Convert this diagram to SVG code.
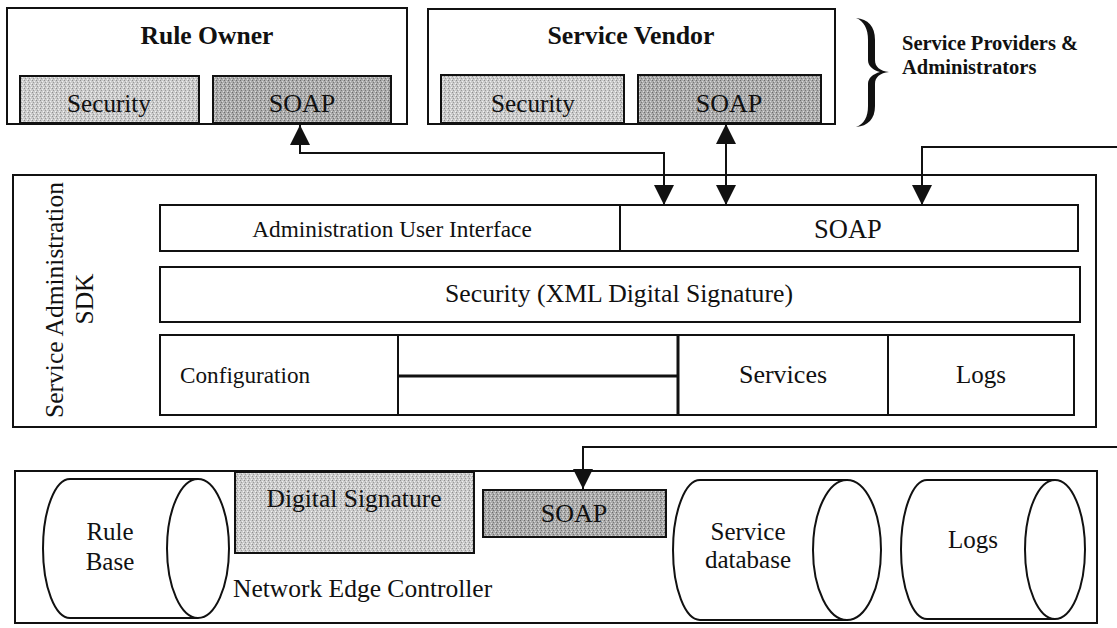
<svg xmlns="http://www.w3.org/2000/svg" width="1117" height="628" viewBox="0 0 1117 628">
<style>
  .box{fill:#fff;stroke:#111;stroke-width:2}
  .lt{fill:url(#light);stroke:#111;stroke-width:2}
  .dk{fill:url(#dark);stroke:#111;stroke-width:2}
  .t{font-family:"Liberation Serif","Times New Roman",serif;font-size:25.5px;fill:#111}
  .c{text-anchor:middle}
  .b{font-weight:bold}
  .conn{fill:none;stroke:#111;stroke-width:2}
  .cyl{fill:#fff;stroke:#111;stroke-width:2}
</style>
<defs>
  <pattern id="light" width="4" height="4" patternUnits="userSpaceOnUse">
    <rect width="4" height="4" fill="#cbcbcb"/>
    <rect x="0" y="0" width="1" height="1" fill="#8f8f8f"/>
    <rect x="2" y="1" width="1" height="1" fill="#eeeeee"/>
    <rect x="1" y="2" width="1" height="1" fill="#9a9a9a"/>
    <rect x="3" y="3" width="1" height="1" fill="#f2f2f2"/>
  </pattern>
  <pattern id="dark" width="4" height="4" patternUnits="userSpaceOnUse">
    <rect width="4" height="4" fill="#ababab"/>
    <rect x="0" y="0" width="1" height="1" fill="#6c6c6c"/>
    <rect x="2" y="1" width="1" height="1" fill="#d6d6d6"/>
    <rect x="1" y="2" width="1" height="1" fill="#777777"/>
    <rect x="3" y="3" width="1" height="1" fill="#dcdcdc"/>
  </pattern>
  <marker id="ah" viewBox="0 0 20 20" refX="20" refY="10" markerWidth="20" markerHeight="20" markerUnits="userSpaceOnUse" orient="auto-start-reverse">
    <path d="M0,0 L20,10 L0,20 Z" fill="#111"/>
  </marker>
</defs>

<g id="rule-owner">
  <rect class="box" x="7" y="8" width="400" height="116"/>
  <text class="t c b" x="207" y="44" style="font-size:25.6px">Rule Owner</text>
  <rect class="lt" x="20" y="76" width="179" height="47"/>
  <text class="t c" x="109" y="112" style="font-size:25.2px">Security</text>
  <rect class="dk" x="213" y="76" width="178" height="47"/>
  <text class="t c" x="302" y="112" style="font-size:26px">SOAP</text>
</g>

<g id="service-vendor">
  <rect class="box" x="428" y="9" width="407" height="115"/>
  <text class="t c b" x="631" y="44" style="font-size:25.8px">Service Vendor</text>
  <rect class="lt" x="441" y="75" width="183" height="48"/>
  <text class="t c" x="533" y="112" style="font-size:25.2px">Security</text>
  <rect class="dk" x="638" y="75" width="183" height="48"/>
  <text class="t c" x="729" y="112" style="font-size:26px">SOAP</text>
</g>

<g id="providers-label">
  <path d="M856,18 C868,19 875,26 875,40 L875,60 C875,67 880,71 889,72 C880,73 875,77 875,84 L875,106 C875,119 868,126 856,127 C864,124 868,117 868,106 L868,84 C868,78 873,74 880,72 C873,70 868,66 868,60 L868,40 C868,29 864,21 856,18 Z" fill="#111"/>
  <text class="t b" x="902" y="50" style="font-size:20.5px">Service Providers &amp;</text>
  <text class="t b" x="902" y="74" style="font-size:20.5px">Administrators</text>
</g>

<g id="sdk">
  <rect class="box" x="13" y="175" width="1083" height="252"/>
  <text class="t c" transform="translate(63,300) rotate(-90)">Service Administration</text>
  <text class="t c" transform="translate(93,299) rotate(-90)">SDK</text>
  <g id="admin-ui">
    <rect class="box" x="160" y="205" width="460" height="46"/>
    <text class="t c" x="392" y="237" style="font-size:23.3px">Administration User Interface</text>
  </g>
  <g id="sdk-soap">
    <rect class="box" x="620" y="205" width="458" height="46"/>
    <text class="t c" x="848" y="238" style="font-size:26.5px">SOAP</text>
  </g>
  <g id="sdk-security">
    <rect class="box" x="160" y="267" width="920" height="55"/>
    <text class="t c" x="619" y="302" style="font-size:25.7px">Security (XML Digital Signature)</text>
  </g>
  <g id="sdk-bottom">
    <rect class="box" x="160" y="335" width="914" height="80"/>
    <line x1="398" y1="335" x2="398" y2="415" stroke="#111" stroke-width="2"/>
    <line x1="678" y1="335" x2="678" y2="415" stroke="#111" stroke-width="3"/>
    <line x1="888" y1="335" x2="888" y2="415" stroke="#111" stroke-width="2"/>
    <line x1="398" y1="376" x2="678" y2="376" stroke="#111" stroke-width="3"/>
    <text class="t" x="180" y="383" style="font-size:23.2px">Configuration</text>
    <text class="t c" x="783" y="383" style="font-size:26px">Services</text>
    <text class="t c" x="981" y="383" style="font-size:25px">Logs</text>
  </g>
</g>

<g id="nec">
  <rect class="box" x="15" y="471" width="1082" height="152"/>
  <text class="t" x="233" y="597">Network Edge Controller</text>
  <g id="rule-base">
    <path class="cyl" d="M198,479 L70,479 A27,69.5 0 0 0 70,618 L198,618"/>
    <ellipse class="cyl" cx="198" cy="548.5" rx="31" ry="69.5"/>
    <text class="t c" x="110" y="540" style="font-size:25px">Rule</text>
    <text class="t c" x="110" y="570" style="font-size:25px">Base</text>
  </g>
  <g id="digital-signature">
    <rect class="lt" x="235" y="472" width="239" height="81"/>
    <text class="t c" x="354" y="507">Digital Signature</text>
  </g>
  <g id="nec-soap">
    <rect class="dk" x="483" y="490" width="183" height="47"/>
    <text class="t c" x="574" y="522" style="font-size:26px">SOAP</text>
  </g>
  <g id="service-db">
    <path class="cyl" d="M847,480 L700,480 A27,70 0 0 0 700,620 L847,620"/>
    <ellipse class="cyl" cx="847" cy="550" rx="34" ry="70"/>
    <text class="t c" x="748" y="540" style="font-size:25px">Service</text>
    <text class="t c" x="748" y="568" style="font-size:25px">database</text>
  </g>
  <g id="logs-db">
    <path class="cyl" d="M1055,480 L927,480 A26,69.5 0 0 0 927,619 L1055,619"/>
    <ellipse class="cyl" cx="1055" cy="549.5" rx="30" ry="69.5"/>
    <text class="t c" x="973" y="548" style="font-size:25px">Logs</text>
  </g>
</g>

<g id="connectors">
  <path class="conn" d="M300,125 L300,153 L664,153 L664,205" marker-start="url(#ah)" marker-end="url(#ah)"/>
  <path class="conn" d="M726,124 L726,205" marker-start="url(#ah)" marker-end="url(#ah)"/>
  <path class="conn" d="M1117,147 L922,147 L922,205" marker-end="url(#ah)"/>
  <path class="conn" d="M1117,447 L583,447 L583,489" marker-end="url(#ah)"/>
</g>
</svg>
